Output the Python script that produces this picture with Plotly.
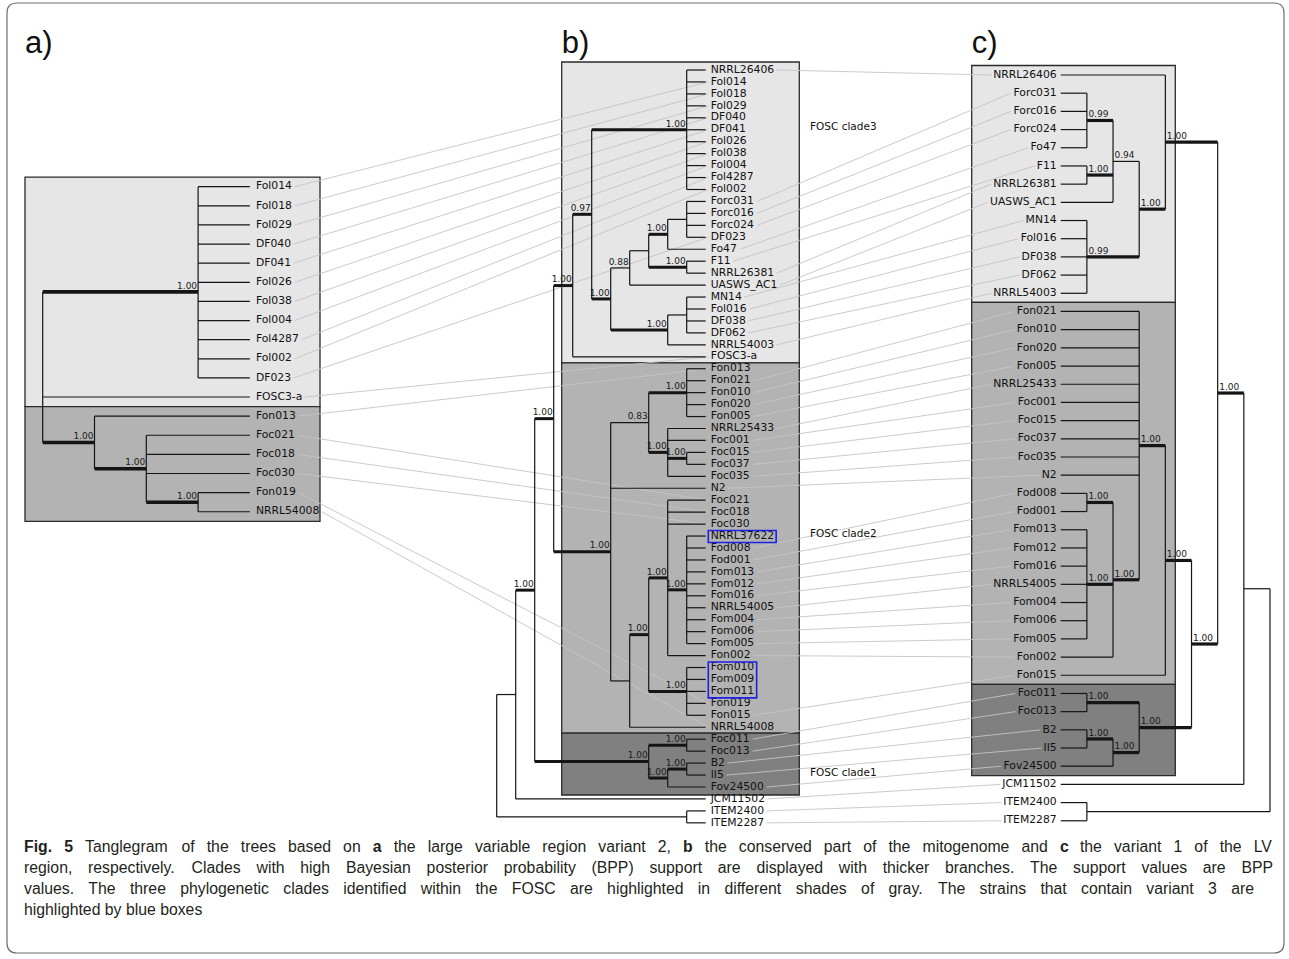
import plotly.graph_objects as go

# ======================= DATA =======================
# Tree node = (depth_level, support_or_None, [children], optional_row_override)
# leaves are plain strings
tree_a = (0, None, [
    (3, 1.00, ["Fol014", "Fol018", "Fol029", "DF040", "DF041", "Fol026",
               "Fol038", "Fol004", "Fol4287", "Fol002", "DF023"], 5.5),
    "FOSC3-a",
    (1, 1.00, ["Fon013",
               (2, 1.00, ["Foc021", "Foc018", "Foc030",
                          (3, 1.00, ["Fon019", "NRRL54008"])])]),
])

tree_b = (0, None, [
    (1, None, [
        (2, 1.00, [
            (3, 1.00, [
                (4, 1.00, [
                    (5, 0.97, [
                        (10, 1.00, ["NRRL26406", "Fol014", "Fol018", "Fol029", "DF040", "DF041",
                                    "Fol026", "Fol038", "Fol004", "Fol4287", "Fol002"]),
                        (6, 1.00, [
                            (7, 0.88, [
                                (8, None, [
                                    (9, 1.00, [(10, None, ["Forc031", "Forc016", "Forc024", "DF023"]), "Fo47"]),
                                    (10, 1.00, ["F11", "NRRL26381"]),
                                ]),
                                "UASWS_AC1",
                            ]),
                            (9, 1.00, [(10, None, ["MN14", "Fol016", "DF038", "DF062"]), "NRRL54003"]),
                        ]),
                    ]),
                    "FOSC3-a",
                ]),
                (6, 1.00, [
                    (8, 0.83, [
                        (10, 1.00, ["Fon013", "Fon021", "Fon010", "Fon020", "Fon005"]),
                        (9, 1.00, ["NRRL25433", "Foc001", (10, 1.00, ["Foc015", "Foc037"]), "Foc035"]),
                    ]),
                    "N2",
                    (7, None, [
                        (8, 1.00, [
                            (9, 1.00, ["Foc021", "Foc018", "Foc030",
                                       (10, 1.00, ["NRRL37622", "Fod008", "Fod001", "Fom013", "Fom012",
                                                   "Fom016", "NRRL54005", "Fom004", "Fom006", "Fom005"]),
                                       "Fon002"]),
                            (10, 1.00, ["Fom010", "Fom009", "Fom011", "Fon019", "Fon015"]),
                        ]),
                        "NRRL54008",
                    ]),
                ]),
            ]),
            (8, 1.00, [
                (10, 1.00, ["Foc011", "Foc013"]),
                (9, 1.00, [(10, 1.00, ["B2", "II5"]), "Fov24500"]),
            ]),
        ]),
        "JCM11502",
    ]),
    (10, None, ["ITEM2400", "ITEM2287"]),
])

tree_c = (0, None, [
    (1, None, [
        (2, 1.00, [
            (4, 1.00, ["NRRL26406",
                       (5, 1.00, [
                           (6, 0.94, [(7, 0.99, ["Forc031", "Forc016", "Forc024", "Fo47"]),
                                      (7, 1.00, ["F11", "NRRL26381"]),
                                      "UASWS_AC1"]),
                           (7, 0.99, ["MN14", "Fol016", "DF038", "DF062", "NRRL54003"]),
                       ])]),
            (3, 1.00, [
                (4, 1.00, [
                    (5, 1.00, ["Fon021", "Fon010", "Fon020", "Fon005", "NRRL25433", "Foc001",
                               "Foc015", "Foc037", "Foc035", "N2",
                               (6, 1.00, [(7, 1.00, ["Fod008", "Fod001"]),
                                          (7, 1.00, ["Fom013", "Fom012", "Fom016", "NRRL54005",
                                                     "Fom004", "Fom006", "Fom005"]),
                                          "Fon002"])]),
                    "Fon015",
                ]),
                (5, 1.00, [(7, 1.00, ["Foc011", "Foc013"]),
                           (6, 1.00, [(7, 1.00, ["B2", "II5"]), "Fov24500"])]),
            ]),
        ]),
        "JCM11502",
    ]),
    (7, None, ["ITEM2400", "ITEM2287"]),
])

clades_a = [("FOSC clade3", "Fol014", "FOSC3-a"), ("FOSC clade2", "Fon013", "NRRL54008")]
clades_b = [("FOSC clade3", "NRRL26406", "FOSC3-a"), ("FOSC clade2", "Fon013", "NRRL54008"),
            ("FOSC clade1", "Foc011", "Fov24500")]
clades_c = [("FOSC clade3", "NRRL26406", "NRRL54003"), ("FOSC clade2", "Fon021", "Fon015"),
            ("FOSC clade1", "Foc011", "Fov24500")]
clade_label_rows = {"FOSC clade3": "DF041", "FOSC clade2": "NRRL37622", "FOSC clade1": "II5"}
blue_groups = [["NRRL37622"], ["Fom010", "Fom009", "Fom011"]]
panel_labels = ["a)", "b)", "c)"]

caption_lines = [
    "**Fig. 5** Tanglegram of the trees based on **a** the large variable region variant 2, **b** the conserved part of the mitogenome and **c** the variant 1 of the LV",
    "region, respectively. Clades with high Bayesian posterior probability (BPP) support are displayed with thicker branches. The support values are BPP",
    "values. The three phylogenetic clades identified within the FOSC are highlighted in different shades of gray. The strains that contain variant 3 are",
    "highlighted by blue boxes",
]

# ======================= STYLE / LAYOUT =======================
W, H = 1289, 959
LEAF_FS = 10.8
SUP_FS = 9.0
FONT = "DejaVu Sans"
CLADE_FILL = {"FOSC clade3": "#e6e6e6", "FOSC clade2": "#b3b3b3", "FOSC clade1": "#808080"}
BRANCH = "#151515"

cfg = {
    "a": dict(tree=tree_a, first_y=186.7, dy=19.12, root_x=42.7, step=51.8, tip=4, dir=1,
              gap=6, thick=3.6, box=(25, 320), pad=9.6, clades=clades_a),
    "b": dict(tree=tree_b, first_y=70.0, dy=11.95, root_x=496.7, step=19.0, tip=11, dir=1,
              gap=5, thick=3.0, box=(561.7, 799.3), pad=8.0, clades=clades_b),
    "c": dict(tree=tree_c, first_y=75.0, dy=18.19, root_x=1270.0, step=26.16, tip=8, dir=-1,
              gap=4, thick=3.2, box=(971.7, 1175.3), pad=9.5, clades=clades_c),
}

DV = {'A': 1401, 'B': 1405, 'C': 1430, 'D': 1577, 'E': 1294, 'F': 1180, 'I': 604, 'J': 604,
      'L': 1141, 'M': 1767, 'N': 1532, 'O': 1612, 'P': 1235, 'R': 1423, 'S': 1300, 'T': 1251,
      'U': 1499, 'V': 1401, 'W': 2025, 'a': 1255, 'c': 1126, 'd': 1300, 'e': 1260, 'i': 569,
      'l': 569, 'm': 1995, 'n': 1298, 'o': 1253, 'r': 842, 's': 1067, 't': 803, 'v': 1212,
      '_': 1024, '-': 739, ' ': 651, '.': 651}


def dv_width(s, fs=LEAF_FS):
    return sum(1303 if ch.isdigit() else DV.get(ch, 1250) for ch in s) / 2048.0 * fs


ARIAL = dict(zip("abcdefghijklmnopqrstuvwxyz",
                 [556, 556, 500, 556, 556, 278, 556, 556, 222, 222, 500, 222, 833, 556, 556, 556,
                  556, 333, 500, 278, 556, 500, 722, 500, 500, 500]))
ARIAL.update(zip("ABCDEFGHIJKLMNOPQRSTUVWXYZ",
                 [667, 667, 722, 722, 667, 611, 778, 722, 278, 500, 667, 556, 833, 722, 778, 667,
                  778, 722, 667, 611, 722, 667, 944, 667, 667, 611]))
ARIAL.update({' ': 278, '.': 278, ',': 278, '(': 333, ')': 333, '-': 333})
ARIAL_B = dict(ARIAL)
ARIAL_B.update({'b': 611, 'g': 611, 'i': 278, 'F': 611})


def cap_width(s, fs, bold=False):
    tab = ARIAL_B if bold else ARIAL
    return sum(556 if ch.isdigit() else tab.get(ch, 556) for ch in s) / 1000.0 * fs


def layout_tree(c):
    leaves, segs, sups = [], [], []

    def X(level):
        return c["root_x"] + c["dir"] * level * c["step"]

    def walk(node):
        if isinstance(node, str):
            y = c["first_y"] + len(leaves) * c["dy"]
            leaves.append((node, y))
            return X(c["tip"]), y
        level, children = node[0], node[2]
        x = X(level)
        pts = [walk(ch) for ch in children]
        for ch, (cx, cy) in zip(children, pts):
            csup = None if isinstance(ch, str) else ch[1]
            segs.append((x, cy, cx, cy, csup is not None and csup >= 0.95))
            if csup is not None:
                sups.append((cx, cy, f"{csup:.2f}"))
        segs.append((x, pts[0][1], x, pts[-1][1], False))
        if len(node) > 3:
            y = c["first_y"] + node[3] * c["dy"]
        else:
            y = (pts[0][1] + pts[-1][1]) / 2.0
        return x, y

    walk(c["tree"])
    return leaves, segs, sups


fig = go.Figure()
shapes = []
pos = {}

for key, c in cfg.items():
    leaves, segs, sups = layout_tree(c)
    rows = dict(leaves)
    tipx = c["root_x"] + c["dir"] * c["tip"] * c["step"]
    labx = tipx + c["dir"] * c["gap"]
    pos[key] = dict(rows=rows, labx=labx)

    # clade boxes
    x0, x1 = c["box"]
    spans = []
    for name, first, last in c["clades"]:
        spans.append([name, rows[first], rows[last]])
    for i, (name, yf, yl) in enumerate(spans):
        top = yf - c["pad"] if i == 0 else (spans[i - 1][2] + yf) / 2
        bot = yl + c["pad"] if i == len(spans) - 1 else (yl + spans[i + 1][1]) / 2
        shapes.append(dict(type="rect", x0=x0, x1=x1, y0=top, y1=bot, xref="x", yref="y",
                           fillcolor=CLADE_FILL[name], line=dict(color="#2a2a2a", width=1.3),
                           layer="below"))

    for thick in (False, True):
        xs, ys = [], []
        for (a0, b0, a1, b1, t) in segs:
            if t == thick:
                xs += [a0, a1, None]
                ys += [b0, b1, None]
        fig.add_trace(go.Scatter(x=xs, y=ys, mode="lines", hoverinfo="skip",
                                 line=dict(color=BRANCH, width=c["thick"] if thick else 1.2)))

    pos[key]["sups"] = sups
    pos[key]["leaves"] = leaves

# connection lines
cx, cy = [], []
ra, rb, rc = pos["a"]["rows"], pos["b"]["rows"], pos["c"]["rows"]
for name, y in pos["a"]["leaves"]:
    if name in rb:
        cx += [pos["a"]["labx"] + dv_width(name) + 2.5, pos["b"]["labx"] - 2.5, None]
        cy += [y, rb[name], None]
for name, y in pos["b"]["leaves"]:
    if name in rc:
        cx += [pos["b"]["labx"] + dv_width(name) + 2.5, pos["c"]["labx"] - dv_width(name) - 2, None]
        cy += [y, rc[name], None]
fig.add_trace(go.Scatter(x=cx, y=cy, mode="lines", hoverinfo="skip",
                         line=dict(color="#c4c4c4", width=0.9)))
fig.data = (fig.data[-1],) + fig.data[:-1]

# leaf labels and support values
for key, c in cfg.items():
    leaves = pos[key]["leaves"]
    fig.add_trace(go.Scatter(
        x=[pos[key]["labx"]] * len(leaves), y=[y for _, y in leaves],
        text=[n for n, _ in leaves], mode="text", hoverinfo="skip",
        textposition="middle right" if c["dir"] == 1 else "middle left",
        textfont=dict(family=FONT, size=LEAF_FS, color="#111111")))
    sups = pos[key]["sups"]
    if c["dir"] == 1:
        sx = [x - 1 for x, _, _ in sups]
        tp = "top left"
    else:
        sx = [x + 1.5 for x, _, _ in sups]
        tp = "top right"
    fig.add_trace(go.Scatter(
        x=sx, y=[y - 1.0 for _, y, _ in sups], text=[t for _, _, t in sups],
        mode="text", hoverinfo="skip", textposition=tp,
        textfont=dict(family=FONT, size=SUP_FS, color="#1a1a1a")))

# blue boxes (tree b)
for grp in blue_groups:
    ys = [rb[n] for n in grp]
    wmax = max(dv_width(n) for n in grp)
    shapes.append(dict(type="rect", xref="x", yref="y",
                       x0=pos["b"]["labx"] - 2.4, x1=pos["b"]["labx"] + wmax + 2.0,
                       y0=min(ys) - 5.5, y1=max(ys) + 6.5,
                       line=dict(color="#1f1fe6", width=1.6), fillcolor="rgba(0,0,0,0)"))

# FOSC clade labels
flx = cfg["b"]["box"][1] + 10.7
fig.add_trace(go.Scatter(
    x=[flx] * len(clade_label_rows), y=[rb[r] - 2 for r in clade_label_rows.values()],
    text=list(clade_label_rows.keys()), mode="text", hoverinfo="skip",
    textposition="middle right", textfont=dict(family=FONT, size=10.5, color="#111111")))

# panel labels
fig.add_trace(go.Scatter(
    x=[cfg[k]["box"][0] for k in ("a", "b", "c")], y=[45, 45, 45], text=panel_labels,
    mode="text", hoverinfo="skip", textposition="middle right",
    textfont=dict(family="Liberation Sans, Arial, sans-serif", size=31, color="#111111")))

# caption (justified)
CAP_FS = 15.8
cap_x0 = 24
cap_targets = [1273, 1273, 1254, None]
cap_y = [848, 869, 890, 911]
wx, wy, wt = [], [], []
for line, target, yline in zip(caption_lines, cap_targets, cap_y):
    words, bold = [], False
    for tok in line.split(" "):
        b = bold
        if tok.startswith("**"):
            tok = tok[2:]
            b = True
            bold = True
        if tok.endswith("**"):
            tok = tok[:-2]
            bold = False
        words.append((tok, b))
    widths = [cap_width(w, CAP_FS, b) for w, b in words]
    sp = 0.278 * CAP_FS
    if target is not None and len(words) > 1:
        sp = (target - cap_x0 - sum(widths)) / (len(words) - 1)
    x = cap_x0
    for (w, b), wd in zip(words, widths):
        wx.append(x)
        wy.append(yline)
        wt.append(f"<b>{w}</b>" if b else w)
        x += wd + sp
fig.add_trace(go.Scatter(x=wx, y=wy, text=wt, mode="text", hoverinfo="skip",
                         textposition="middle right",
                         textfont=dict(family="Liberation Sans, Arial, sans-serif",
                                       size=CAP_FS, color="#231f20")))

# outer rounded frame
l, t, r, bt, rad = 7, 3, 1284, 953, 10
shapes.append(dict(type="path", xref="x", yref="y",
                   path=(f"M {l+rad},{t} L {r-rad},{t} Q {r},{t} {r},{t+rad} L {r},{bt-rad} "
                         f"Q {r},{bt} {r-rad},{bt} L {l+rad},{bt} Q {l},{bt} {l},{bt-rad} "
                         f"L {l},{t+rad} Q {l},{t} {l+rad},{t} Z"),
                   line=dict(color="#6e6e6e", width=1.2), fillcolor="rgba(0,0,0,0)"))

fig.update_layout(
    width=W, height=H, margin=dict(l=0, r=0, t=0, b=0),
    xaxis=dict(range=[0, W], visible=False, fixedrange=True),
    yaxis=dict(range=[H, 0], visible=False, fixedrange=True),
    plot_bgcolor="white", paper_bgcolor="white", showlegend=False, shapes=shapes,
)
fig.write_html("out.html", config={"displayModeBar": False},
               post_script="document.body.style.margin='0px';document.body.style.overflow='hidden';")
